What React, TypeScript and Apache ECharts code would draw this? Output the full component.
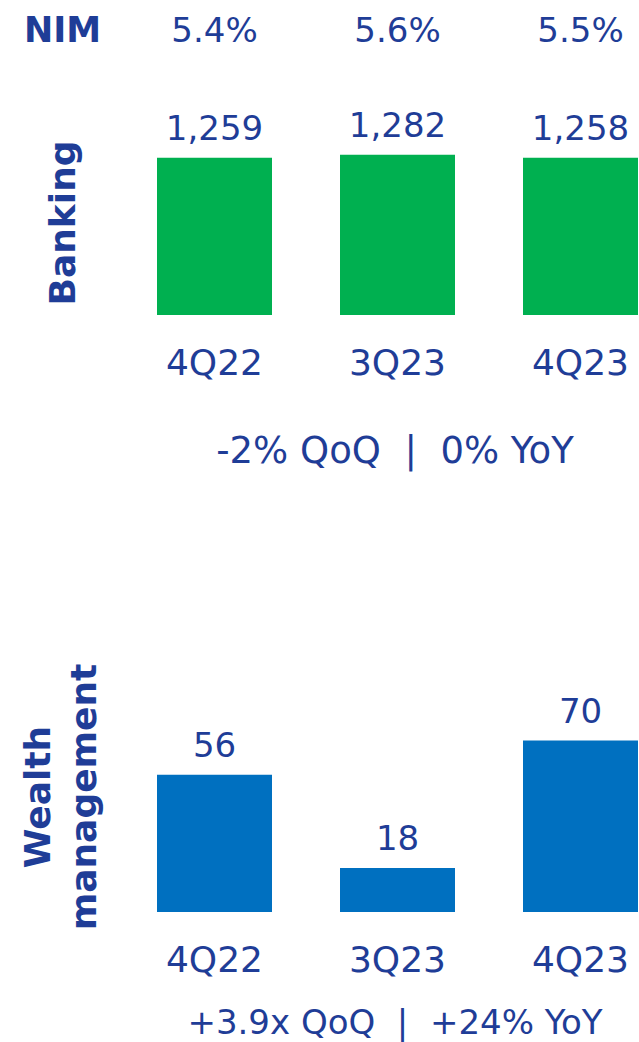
import React, { useEffect, useRef } from "react";
import * as echarts from "echarts";

const categories = ["4Q22", "3Q23", "4Q23"];
const bankingValues = [1259, 1282, 1258];
const wealthValues = [56, 18, 70];
const nimLabels = ["5.4%", "5.6%", "5.5%"];
const nimTitle = "NIM";
const bankingTitle = "Banking";
const wealthTitle = "Wealth\nmanagement";
const bankingChange = "-2% QoQ  |  0% YoY";
const wealthChange = "+3.9x QoQ  |  +24% YoY";

const TEXT = "#1f3d97";
const GREEN = "#00b050";
const BLUE = "#0070c0";
const FONT = "DejaVu Sans";

export default function App() {
  const ref = useRef<HTMLDivElement>(null);
  useEffect(() => {
    document.body.style.margin = "0";
    const chart = echarts.init(ref.current!, null, { renderer: "svg" });
    const fmt = (p: any) => Number(p.value).toLocaleString("en-US");
    const valueStyle = { color: TEXT, fontSize: 34, fontFamily: FONT };
    const catStyle = { color: TEXT, fontSize: 36, fontFamily: FONT };
    chart.setOption({
      animation: false,
      grid: [
        { left: 123, width: 549, top: 140, height: 175 },
        { left: 123, width: 549, top: 716, height: 196 },
      ],
      xAxis: [
        {
          gridIndex: 0, type: "category", data: categories,
          axisLine: { show: false }, axisTick: { show: false },
          axisLabel: { ...catStyle, margin: 29 },
        },
        {
          gridIndex: 0, type: "category", data: nimLabels, position: "top",
          axisLine: { show: false }, axisTick: { show: false },
          axisLabel: { ...valueStyle, margin: 93 },
        },
        {
          gridIndex: 1, type: "category", data: categories,
          axisLine: { show: false }, axisTick: { show: false },
          axisLabel: { ...catStyle, margin: 29 },
        },
      ],
      yAxis: [
        { gridIndex: 0, type: "value", min: 0, max: 1400, show: false },
        { gridIndex: 1, type: "value", min: 0, max: 80, show: false },
      ],
      series: [
        {
          type: "bar", xAxisIndex: 0, yAxisIndex: 0, data: bankingValues,
          barWidth: 115, itemStyle: { color: GREEN },
          label: { show: true, position: "top", distance: 13, formatter: fmt, ...valueStyle },
        },
        {
          type: "bar", xAxisIndex: 2, yAxisIndex: 1, data: wealthValues,
          barWidth: 115, itemStyle: { color: BLUE },
          label: { show: true, position: "top", distance: 13, formatter: fmt, ...valueStyle },
        },
      ],
      graphic: [
        {
          type: "text", left: 24, top: 12,
          style: { text: nimTitle, fill: TEXT, fontSize: 35, fontWeight: "bold", fontFamily: FONT },
        },
        {
          type: "text", x: 62, y: 223, rotation: Math.PI / 2,
          style: { text: bankingTitle, fill: TEXT, fontSize: 36, fontWeight: "bold", fontFamily: FONT, align: "center", verticalAlign: "middle" },
        },
        {
          type: "text", x: 60, y: 797, rotation: Math.PI / 2,
          style: { text: wealthTitle, fill: TEXT, fontSize: 36, fontWeight: "bold", fontFamily: FONT, align: "center", verticalAlign: "middle", lineHeight: 46 },
        },
        {
          type: "text", x: 395, y: 450,
          style: { text: bankingChange, fill: TEXT, fontSize: 37, fontFamily: FONT, align: "center", verticalAlign: "middle" },
        },
        {
          type: "text", x: 395, y: 1022,
          style: { text: wealthChange, fill: TEXT, fontSize: 34, fontFamily: FONT, align: "center", verticalAlign: "middle" },
        },
      ],
    });
    return () => chart.dispose();
  }, []);
  return (
    <div style={{ width: 639, height: 1042, overflow: "hidden" }}>
      <div ref={ref} style={{ width: 700, height: 1042 }} />
    </div>
  );
}
